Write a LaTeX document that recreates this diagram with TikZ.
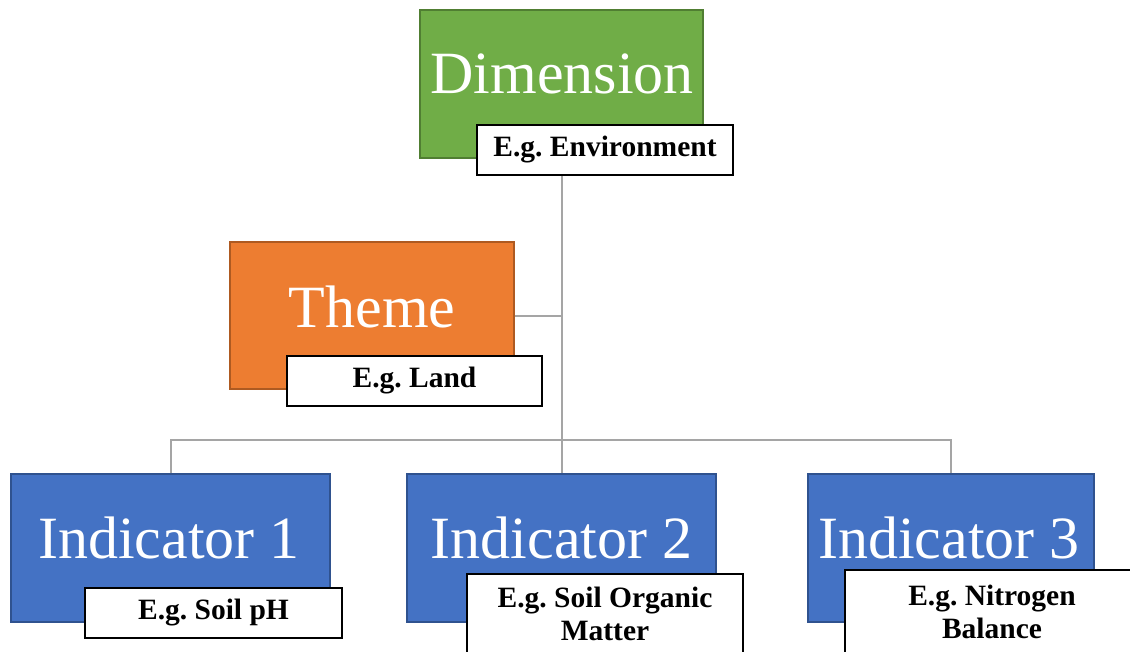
\documentclass[tikz,border=0pt]{standalone}
\usepackage{fontspec}
\setmainfont{Liberation Serif}
\frenchspacing
\begin{document}
\begin{tikzpicture}[x=1pt,y=-1pt,
  bigbox/.style={draw, line width=1.5pt, inner sep=0pt, anchor=center},
  dimbox/.style={bigbox, fill=dimfill, draw=dimline, minimum width=283, minimum height=148},
  themebox/.style={bigbox, fill=themefill, draw=themeline, minimum width=284, minimum height=147},
  indbox/.style={bigbox, fill=indfill, draw=indline, minimum height=148},
  bigtext/.style={anchor=base, text=white, font=\fontsize{60}{72}\selectfont, inner sep=0pt},
  egbox/.style={draw=black, line width=2pt, fill=white, align=center, inner sep=0pt,
    font=\bfseries\fontsize{29.5}{33}\selectfont},
  link/.style={draw=linkgray, line width=2pt}
]
\definecolor{dimfill}{HTML}{70AD47}
\definecolor{dimline}{HTML}{507E32}
\definecolor{themefill}{HTML}{ED7D31}
\definecolor{themeline}{HTML}{AE5A21}
\definecolor{indfill}{HTML}{4472C4}
\definecolor{indline}{HTML}{2F528F}
\definecolor{linkgray}{HTML}{A5A5A5}

\useasboundingbox (0,0) rectangle (1130,651);
\clip (0,0) rectangle (1130,651);

% coloured boxes
\node[dimbox] (dim) at (561.5,84) {};
\node[themebox] (theme) at (372,315.5) {};
\node[indbox, minimum width=319] (ind1) at (170.5,548) {};
\node[indbox, minimum width=309] (ind2) at (561.5,548) {};
\node[indbox, minimum width=286] (ind3) at (951,548) {};

% titles
\node[bigtext] (dimt) at (562,93) {Dimension};
\node[bigtext] (themet) at (372,327) {Theme};
\node[bigtext] (ind1t) at (169,558) {Indicator 1};
\node[bigtext] (ind2t) at (561.5,558) {Indicator 2};
\node[bigtext] (ind3t) at (949,558) {Indicator 3};

% connectors
\coordinate (bus) at (561.5,440);
\draw[link] (dim.south) -- (ind2.north);
\draw[link] (theme.east) -- (theme.east -| dim.south);
\draw[link] (ind1.north) |- (bus) -| (ind3.north);

% example labels
\node[egbox, minimum width=256, minimum height=50] (enveg) at (605,150) {E.g. Environment};
\node[egbox, minimum width=255, minimum height=50] (landeg) at (414.5,381) {E.g. Land};
\node[egbox, minimum width=257, minimum height=50] (pheg) at (213.5,613) {E.g. Soil pH};
\node[egbox, minimum width=276, minimum height=80] (someg) at (605,614) {E.g. Soil Organic\\Matter};
\node[egbox, minimum width=294, minimum height=84] (nbeg) at (992,612) {E.g. Nitrogen\\Balance};
\end{tikzpicture}
\end{document}
